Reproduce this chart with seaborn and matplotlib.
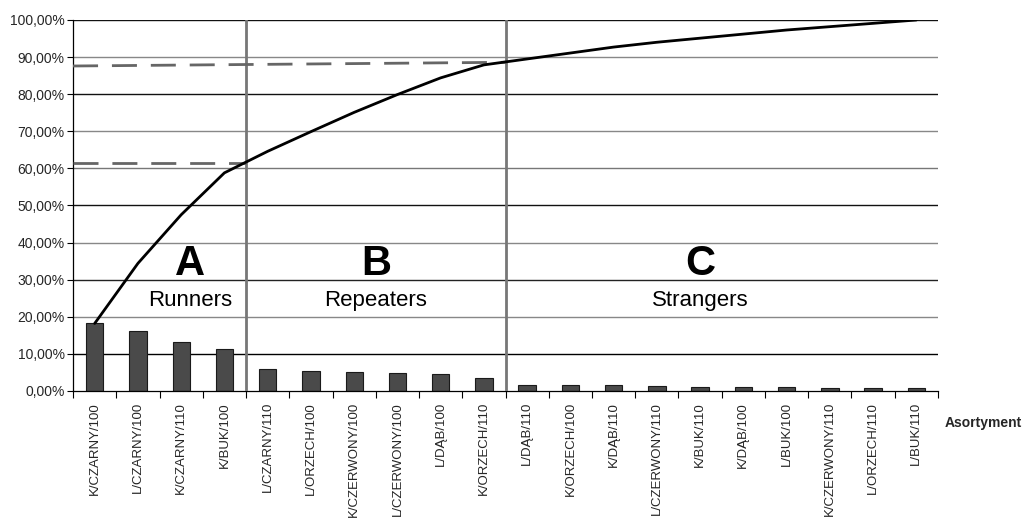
import numpy as np
import pandas as pd
import matplotlib
matplotlib.use('Agg')
import matplotlib.pyplot as plt
from matplotlib.ticker import FuncFormatter, FixedLocator
import seaborn as sns

# Data
categories = ['K/CZARNY/100', 'L/CZARNY/100', 'K/CZARNY/110', 'K/BUK/100',
              'L/CZARNY/110', 'L/ORZECH/100', 'K/CZERWONY/100', 'L/CZERWONY/100',
              'L/DĄB/100', 'K/ORZECH/110', 'L/DĄB/110', 'K/ORZECH/100',
              'K/DĄB/110', 'L/CZERWONY/110', 'K/BUK/110', 'K/DĄB/100',
              'L/BUK/100', 'K/CZERWONY/110', 'L/ORZECH/110', 'L/BUK/110']
share = [18.2, 16.2, 13.1, 11.3, 5.8, 5.3, 5.2, 4.8, 4.5, 3.5,
         1.6, 1.6, 1.6, 1.3, 1.1, 1.1, 1.1, 0.9, 0.9, 0.9]
cumulative = [18.2, 34.4, 47.5, 58.8, 64.6, 69.9, 75.1, 79.9, 84.4, 87.9,
              89.5, 91.1, 92.7, 94.0, 95.1, 96.2, 97.3, 98.2, 99.1, 100.0]
group_bounds = [3.5, 9.5]
group_letters = ['A', 'B', 'C']
group_names = ['Runners', 'Repeaters', 'Strangers']
cut_a = 61.5
cut_b = [87.6, 88.6]
y_ticks = [0, 10, 20, 30, 40, 50, 60, 70, 80, 90, 100]

df = pd.DataFrame({'asortyment': categories, 'udzial': share, 'skumulowany': cumulative})

sns.set_style('white')
plt.rcParams['font.family'] = ['Liberation Sans', 'DejaVu Sans']

fig = plt.figure(figsize=(10.26, 5.18), dpi=100)
ax = fig.add_axes([0.0712, 0.2452, 0.843, 0.7162])

# gridlines (alternating dark / grey as in the scan)
grid_colors = ['#000000', '#000000', '#888888', '#222222', '#888888', '#111111',
               '#777777', '#888888', '#111111', '#888888', '#111111']
for yt, gc in zip(y_ticks, grid_colors):
    if yt == 0:
        continue
    ax.axhline(yt, color=gc, lw=1.0, zorder=0)

sns.barplot(data=df, x='asortyment', y='udzial', color='#4a4a4a',
            edgecolor='#1a1a1a', linewidth=0.8, width=0.4, saturation=1,
            ax=ax, zorder=2)

ax.plot(np.arange(len(cumulative)), df['skumulowany'], color='black', lw=2.0, zorder=4)

# group separators
for b in group_bounds:
    ax.axvline(b, color='#777777', lw=2.0, zorder=3)

# dashed cut-off lines
ax.plot([-0.5, group_bounds[0]], [cut_a, cut_a], color='#666666', lw=2.0,
        dashes=(9, 5), zorder=3)
ax.plot([-0.5, group_bounds[1]], cut_b, color='#666666', lw=2.0,
        dashes=(9, 5), zorder=3)

# group annotations
group_x = [2.2, 6.5, 14.0]
for gx, let, name in zip(group_x, group_letters, group_names):
    ax.text(gx, 34.1, let, ha='center', va='center', fontsize=30,
            fontweight='bold', color='black')
    ax.text(gx, 24.5, name, ha='center', va='center', fontsize=16, color='black')

ax.set_xlim(-0.5, len(categories) - 0.5)
ax.set_ylim(0, 100)
ax.set_yticks(y_ticks)
ax.yaxis.set_major_formatter(FuncFormatter(lambda v, p: f'{v:.2f}%'.replace('.', ',')))
ax.tick_params(axis='y', labelsize=10, length=4, width=0.8, color='black', pad=2, left=True)

ax.set_xticks(np.arange(len(categories)))
ax.set_xticklabels(categories, rotation=90, fontsize=9.5)
ax.xaxis.set_minor_locator(FixedLocator(np.arange(-0.5, len(categories), 1.0)))
ax.tick_params(axis='x', which='major', length=0, pad=8)
ax.tick_params(axis='x', which='minor', length=5, width=0.8, color='black', bottom=True)
for lab in ax.get_xticklabels():
    lab.set_verticalalignment('top')

ax.set_xlabel('')
ax.set_ylabel('')
for side in ['top', 'right']:
    ax.spines[side].set_visible(False)
for side in ['left', 'bottom']:
    ax.spines[side].set_color('black')
    ax.spines[side].set_linewidth(0.9)

fig.text(0.958, 0.183, 'Asortyment', ha='center', va='center', fontsize=10,
         fontweight='bold')

fig.savefig('out.png', dpi=100)
